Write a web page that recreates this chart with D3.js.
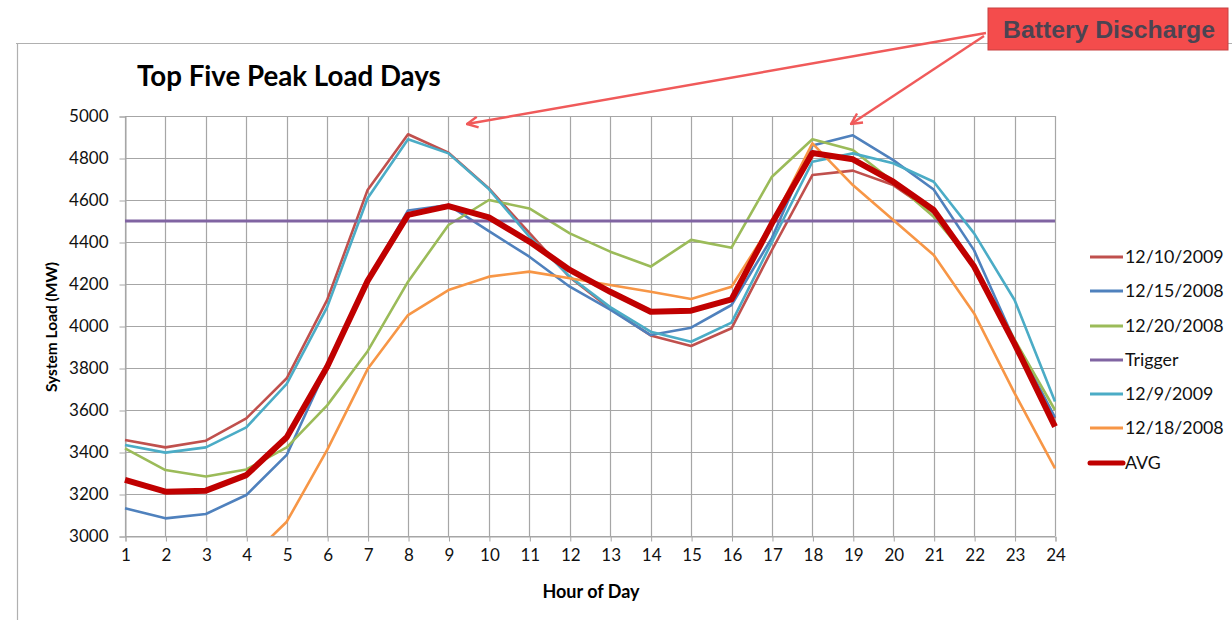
<!DOCTYPE html>
<html>
<head>
<meta charset="utf-8">
<script src="https://cdn.jsdelivr.net/npm/d3@7"></script>
<style>
  html, body { margin: 0; padding: 0; background: #fff; }
  svg { display: block; }
</style>
</head>
<body>
<svg id="chart" width="1232" height="620"></svg>
<script>
// ---- data ----
const hours = [1,2,3,4,5,6,7,8,9,10,11,12,13,14,15,16,17,18,19,20,21,22,23,24];
const d_12_10_2009 = [3457,3422,3454,3560,3751,4124,4648,4913,4825,4655,4443,4232,4082,3955,3905,3989,4362,4719,4740,4671,4538,4290,3920,3560];
const d_12_15_2008 = [3132,3084,3105,3195,3386,3806,4215,4550,4576,4452,4330,4187,4078,3957,3992,4100,4420,4860,4908,4790,4650,4360,3930,3565];
const d_12_20_2008 = [3417,3314,3283,3317,3422,3622,3880,4211,4481,4600,4560,4441,4354,4283,4410,4373,4711,4889,4838,4687,4520,4290,3935,3600];
const trigger      = [4500,4500,4500,4500,4500,4500,4500,4500,4500,4500,4500,4500,4500,4500,4500,4500,4500,4500,4500,4500,4500,4500,4500,4500];
const d_12_9_2009  = [3433,3397,3422,3517,3724,4090,4608,4889,4822,4652,4425,4235,4090,3973,3925,4016,4400,4782,4822,4775,4687,4441,4124,3640];
const d_12_18_2008 = [null,null,null,2880,3068,3410,3795,4052,4171,4235,4259,4227,4195,4163,4129,4187,4490,4870,4671,4505,4338,4060,3680,3322];
const avg          = [3267,3211,3216,3290,3470,3806,4215,4529,4571,4517,4402,4267,4163,4068,4073,4127,4489,4824,4794,4687,4552,4283,3915,3521];
const yTicks = [3000,3200,3400,3600,3800,4000,4200,4400,4600,4800,5000];
const seriesNames = ["12/10/2009","12/15/2008","12/20/2008","Trigger","12/9/2009","12/18/2008","AVG"];
const seriesValues = [d_12_10_2009, d_12_15_2008, d_12_20_2008, trigger, d_12_9_2009, d_12_18_2008, avg];
const seriesColors = ["#c0504d","#4f81bd","#9bbb59","#8064a2","#4bacc6","#f79646","#c00000"];
const seriesWidths = [2.6, 2.6, 2.6, 3.2, 2.6, 2.6, 6];
const titleText = "Top Five Peak Load Days";
const noteText = "Battery Discharge";

// ---- layout ----
const svg = d3.select("#chart");
const FONT = "Lato, 'Open Sans', sans-serif";
const x = d3.scaleLinear().domain([1,24]).range([125,1055]);
const y = d3.scaleLinear().domain([3000,5000]).range([536,116]);

// outer chart frame
svg.append("line").attr("x1",16).attr("x2",1232).attr("y1",43.5).attr("y2",43.5).attr("stroke","#b0b0b0").attr("stroke-width",1.2);
svg.append("line").attr("x1",17.5).attr("x2",17.5).attr("y1",43).attr("y2",620).attr("stroke","#b0b0b0").attr("stroke-width",1.2);

// gridlines
const grid = svg.append("g");
grid.selectAll("line.h").data(yTicks).join("line")
  .attr("x1", x(1)).attr("x2", x(24))
  .attr("y1", d => Math.round(y(d))+0.5).attr("y2", d => Math.round(y(d))+0.5)
  .attr("stroke","#a6a6a6").attr("stroke-width",1.2);
grid.selectAll("line.v").data(hours).join("line")
  .attr("x1", d => Math.round(x(d))+0.5).attr("x2", d => Math.round(x(d))+0.5)
  .attr("y1", y(5000)).attr("y2", y(3000))
  .attr("stroke","#a6a6a6").attr("stroke-width",1.2);

// axes
const xAxis = d3.axisBottom(x).tickValues(hours).tickFormat(d3.format("d")).tickSize(5).tickPadding(7);
const gx = svg.append("g").attr("transform",`translate(0.5,${y(3000)+0.5})`).call(xAxis);
gx.select(".domain").attr("stroke","#a6a6a6");
gx.selectAll(".tick line").attr("stroke","#a6a6a6");
gx.selectAll("text").attr("font-family",FONT).attr("font-size",17).attr("fill","#111");

const yAxis = d3.axisLeft(y).tickValues(yTicks).tickFormat(d3.format("d")).tickSize(6).tickPadding(11);
const gy = svg.append("g").attr("transform",`translate(${x(1)+0.5},0.5)`).call(yAxis);
gy.select(".domain").attr("stroke","#a6a6a6");
gy.selectAll(".tick line").attr("stroke","#a6a6a6");
gy.selectAll("text").attr("font-family",FONT).attr("font-size",17).attr("fill","#111");

// clip
svg.append("defs").append("clipPath").attr("id","plotclip")
  .append("rect").attr("x",x(1)-4).attr("y",y(5000)-4).attr("width",x(24)-x(1)+8).attr("height",y(3000)-y(5000)+4);

// lines
const line = d3.line().defined(d => d[1] != null).x(d => x(d[0])).y(d => y(d[1]));
const lg = svg.append("g").attr("clip-path","url(#plotclip)");
seriesValues.forEach((vals,i) => {
  lg.append("path")
    .datum(hours.map((h,j) => [h, vals[j]]))
    .attr("d", line)
    .attr("fill","none")
    .attr("stroke", seriesColors[i])
    .attr("stroke-width", seriesWidths[i])
    .attr("stroke-linejoin","round");
});

// title
svg.append("text").attr("x",137).attr("y",86).text(titleText)
  .attr("font-family",FONT).attr("font-weight","bold").attr("font-size",27.7).attr("fill","#000");

// axis titles
svg.append("text").attr("x",591).attr("y",598).attr("text-anchor","middle").text("Hour of Day")
  .attr("font-family",FONT).attr("font-weight","bold").attr("font-size",18).attr("fill","#000");
svg.append("text").attr("transform","translate(57,327) rotate(-90)").attr("text-anchor","middle").text("System Load (MW)")
  .attr("font-family",FONT).attr("font-weight","bold").attr("font-size",15.5).attr("fill","#000");

// legend
const legY = [257,291,326,360,394,428,463];
const leg = svg.append("g");
seriesNames.forEach((n,i) => {
  leg.append("line").attr("x1",1090).attr("x2",1123).attr("y1",legY[i]).attr("y2",legY[i])
    .attr("stroke",seriesColors[i]).attr("stroke-width", i===6 ? 5 : 3).attr("stroke-linecap", i===6 ? "round" : "butt");
  leg.append("text").attr("x",1125).attr("y",legY[i]).attr("dy","0.36em").text(n)
    .attr("font-family",FONT).attr("font-size",17.8).attr("fill","#111");
});

// annotation
const defs = svg.select("defs");
defs.append("marker").attr("id","arr").attr("viewBox","0 0 12 12").attr("refX",11).attr("refY",6)
  .attr("markerWidth",13).attr("markerHeight",13).attr("markerUnits","userSpaceOnUse").attr("orient","auto")
  .append("path").attr("d","M1,1 L11,6 L1,11").attr("fill","none").attr("stroke","#f05a5a").attr("stroke-width",2.2);
const arrows = [[986,33,467,124],[984,36,851,124]];
arrows.forEach(a => {
  svg.append("line").attr("x1",a[0]).attr("y1",a[1]).attr("x2",a[2]).attr("y2",a[3])
    .attr("stroke","#f05a5a").attr("stroke-width",2.4).attr("marker-end","url(#arr)");
});
svg.append("rect").attr("x",988).attr("y",8).attr("width",240).attr("height",42)
  .attr("fill","#f44c4c").attr("stroke","#c84040").attr("stroke-width",1);
svg.append("text").attr("x",1003).attr("y",30).attr("dy","0.35em").text(noteText)
  .attr("textLength",212).attr("lengthAdjust","spacingAndGlyphs")
  .attr("font-family","'Liberation Sans', Arial, sans-serif").attr("font-weight","bold").attr("font-size",23).attr("fill","#4b4452");
</script>
</body>
</html>
